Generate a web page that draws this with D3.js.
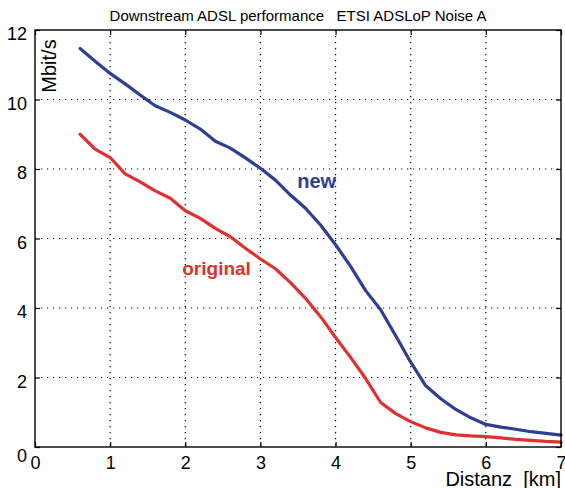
<!DOCTYPE html>
<html>
<head>
<meta charset="utf-8">
<script src="https://cdn.jsdelivr.net/npm/d3@7"></script>
<style>
  body { margin: 0; background: #fff; }
  text { font-family: "Liberation Sans", Arial, sans-serif; }
</style>
</head>
<body>
<div class="container"></div>
<script>
const WIDTH = 565;
const HEIGHT = 488;

// distance in km
const distKm = [0.6, 0.8, 1.0, 1.2, 1.4, 1.6, 1.8, 2.0, 2.2, 2.4, 2.6, 2.8, 3.0,
  3.2, 3.4, 3.6, 3.8, 4.0, 4.2, 4.4, 4.6, 4.8, 5.0, 5.2, 5.4, 5.6, 5.8, 6.0,
  6.2, 6.4, 6.6, 6.8, 7.0];
// Mbit/s
const newRate = [11.47, 11.10, 10.75, 10.45, 10.13, 9.82, 9.63, 9.41, 9.15, 8.80,
  8.60, 8.32, 8.02, 7.68, 7.25, 6.87, 6.39, 5.82, 5.20, 4.50, 3.95, 3.20, 2.44,
  1.76, 1.39, 1.08, 0.84, 0.65, 0.57, 0.51, 0.44, 0.39, 0.34];
const originalRate = [9.00, 8.57, 8.33, 7.86, 7.63, 7.37, 7.16, 6.80, 6.58, 6.29,
  6.05, 5.72, 5.41, 5.13, 4.73, 4.28, 3.75, 3.15, 2.58, 1.97, 1.28, 0.96, 0.73,
  0.55, 0.42, 0.35, 0.32, 0.30, 0.26, 0.22, 0.19, 0.16, 0.14];

const xTicks = [0, 1, 2, 3, 4, 5, 6, 7];
const yTicks = [0, 2, 4, 6, 8, 10, 12];

const margin = {left: 35, right: 4, top: 30, bottom: 41};

var display = function () {
  var svg = d3.select('.container').append('svg')
    .attr('width', WIDTH)
    .attr('height', HEIGHT);

  var x = d3.scaleLinear().domain([0, 7]).range([margin.left, WIDTH - margin.right]);
  var y = d3.scaleLinear().domain([0, 12]).range([HEIGHT - margin.bottom, margin.top]);

  drawGrid(svg, x, y);
  drawSeries(svg, x, y, originalRate, '#e0302f');
  drawSeries(svg, x, y, newRate, '#2e3f93');
  drawFrame(svg, x, y);
  drawText(svg, x, y);
}

var drawGrid = function (svg, x, y) {
  var g = svg.append('g');
  g.selectAll('.vgrid').data(xTicks.slice(1, -1)).enter().append('line')
    .attr('x1', d => x(d)).attr('x2', d => x(d))
    .attr('y1', y(12)).attr('y2', y(0))
    .attr('stroke', '#000').attr('stroke-width', 1.2)
    .attr('stroke-dasharray', '1.2,4.8');
  g.selectAll('.hgrid').data(yTicks.slice(1, -1)).enter().append('line')
    .attr('x1', x(0)).attr('x2', x(7))
    .attr('y1', d => y(d)).attr('y2', d => y(d))
    .attr('stroke', '#000').attr('stroke-width', 1.2)
    .attr('stroke-dasharray', '1.2,4.8');
}

var drawSeries = function (svg, x, y, values, color) {
  var line = d3.line()
    .x((d, i) => x(distKm[i]))
    .y(d => y(d));
  svg.append('path')
    .datum(values)
    .attr('d', line)
    .attr('fill', 'none')
    .attr('stroke', color)
    .attr('stroke-width', 3.2)
    .attr('stroke-linejoin', 'round')
    .attr('stroke-linecap', 'round');
}

var drawFrame = function (svg, x, y) {
  svg.append('rect')
    .attr('x', x(0)).attr('y', y(12))
    .attr('width', x(7) - x(0)).attr('height', y(0) - y(12))
    .attr('fill', 'none').attr('stroke', '#000').attr('stroke-width', 1.4);

  var bottom = svg.append('g').attr('transform', 'translate(0,' + y(0) + ')')
    .call(d3.axisBottom(x).tickValues(xTicks).tickSize(-5).tickPadding(9).tickFormat(d3.format('d')));
  var top = svg.append('g').attr('transform', 'translate(0,' + y(12) + ')')
    .call(d3.axisTop(x).tickValues(xTicks).tickSize(-5).tickFormat(''));
  var left = svg.append('g').attr('transform', 'translate(' + x(0) + ',0)')
    .call(d3.axisLeft(y).tickValues(yTicks).tickSize(-5).tickPadding(8).tickFormat(d3.format('d')));
  var right = svg.append('g').attr('transform', 'translate(' + x(7) + ',0)')
    .call(d3.axisRight(y).tickValues(yTicks).tickSize(-5).tickFormat(''));

  [bottom, top, left, right].forEach(function (a) {
    a.select('.domain').remove();
    a.selectAll('line').attr('stroke', '#000').attr('stroke-width', 1.2);
  });
  bottom.selectAll('text')
    .style('font-size', '18px').attr('fill', '#000');
  left.selectAll('text')
    .style('font-size', '18px').attr('fill', '#000')
    .attr('dy', d => d === 0 ? '0.82em' : '0.55em');
}

var drawText = function (svg, x, y) {
  svg.append('text')
    .attr('x', 298).attr('y', 21)
    .attr('text-anchor', 'middle')
    .style('font-size', '15px')
    .attr('xml:space', 'preserve')
    .text('Downstream ADSL performance   ETSI ADSLoP Noise A');

  svg.append('text')
    .attr('transform', 'translate(56,66) rotate(-90)')
    .attr('text-anchor', 'middle')
    .style('font-size', '20px')
    .text('Mbit/s');

  svg.append('text')
    .attr('x', 561).attr('y', 486)
    .attr('text-anchor', 'end')
    .style('font-size', '20px')
    .attr('xml:space', 'preserve')
    .text('Distanz  [km]');

  svg.append('text')
    .attr('x', x(3.49)).attr('y', y(7.45))
    .style('font-size', '20px').style('font-weight', 'bold')
    .attr('fill', '#2e3f93')
    .text('new');

  svg.append('text')
    .attr('x', x(1.96)).attr('y', y(4.95))
    .style('font-size', '19px').style('font-weight', 'bold')
    .attr('fill', '#e0302f')
    .text('original');
}

window.onload = display;
</script>
</body>
</html>
